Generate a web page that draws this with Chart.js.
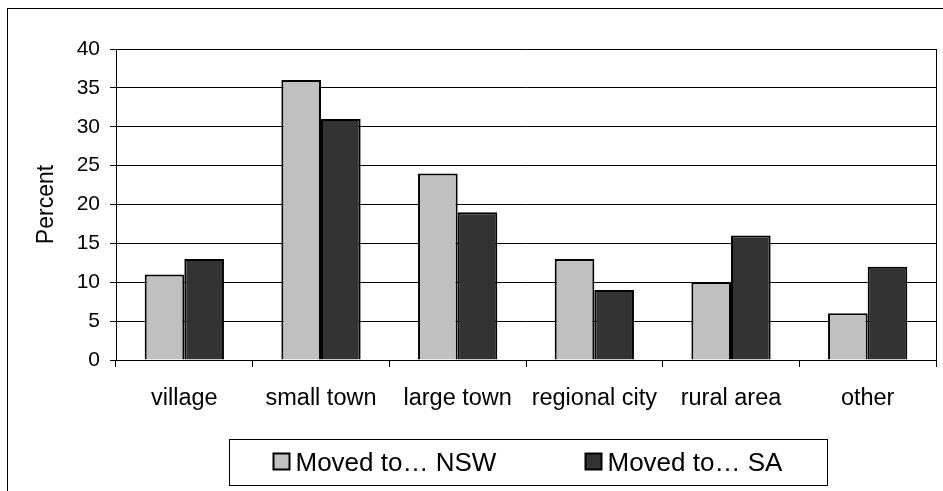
<!DOCTYPE html>
<html>
<head>
<meta charset="utf-8">
<script src="https://cdn.jsdelivr.net/npm/chart.js@4.4.1/dist/chart.umd.min.js"></script>
<style>
body { margin: 0; background: #fff; }
</style>
</head>
<body>
<canvas id="myBarChart" width="943" height="491"></canvas>
<script>
var categories = ["village", "small town", "large town", "regional city", "rural area", "other"];
var seriesNames = ["Moved to\u2026 NSW", "Moved to\u2026 SA"];
var nswValues = [11, 36, 24, 13, 10, 6];
var saValues = [13, 31, 19, 9, 16, 12];
var yTicks = [0, 5, 10, 15, 20, 25, 30, 35, 40];

var fontFamily = '"Liberation Sans", Arial, sans-serif';
Chart.defaults.color = '#000';
Chart.defaults.font.family = fontFamily;

// white page, outer frame, plot right edge and the boxed legend
var frames = {
    id: 'frames',
    beforeDraw: function(chart) {
        var ctx = chart.ctx;
        ctx.save();
        ctx.fillStyle = '#fff';
        ctx.fillRect(0, 0, chart.width, chart.height);
        ctx.restore();
    },
    afterDraw: function(chart) {
        var ctx = chart.ctx, a = chart.chartArea;
        ctx.save();
        ctx.strokeStyle = '#000';
        ctx.lineWidth = 1;
        ctx.strokeRect(7.5, 8.5, chart.width, chart.height);

        var rx = Math.round(a.right) + 0.5;
        ctx.beginPath();
        ctx.moveTo(rx, a.top);
        ctx.lineTo(rx, a.bottom);
        ctx.stroke();

        // legend
        var cx = (a.left + a.right) / 2;
        var L = Math.round(cx - 297) + 0.5, T = chart.height - 51.5;
        ctx.strokeRect(L, T, 598, 46);
        ctx.font = '26px ' + fontFamily;
        ctx.textBaseline = 'middle';
        ctx.textAlign = 'left';
        chart.data.datasets.forEach(function(ds, i) {
            var bx = L + 44 + i * 312, by = T + 14;
            ctx.fillStyle = ds.backgroundColor;
            ctx.fillRect(bx, by, 16, 16);
            ctx.lineWidth = 2;
            ctx.strokeRect(bx, by, 16, 16);
            ctx.fillStyle = '#000';
            ctx.fillText(ds.label, bx + 22, T + 24);
        });
        ctx.restore();
    }
};

var ctx = document.getElementById("myBarChart").getContext('2d');
var myBarChart = new Chart(ctx, {
    type: 'bar',
    data: {
        labels: categories,
        datasets: [
            {
                label: seriesNames[0],
                data: nswValues,
                backgroundColor: '#C0C0C0',
                borderColor: '#000',
                borderWidth: 2,
                categoryPercentage: 0.58,
                barPercentage: 1
            },
            {
                label: seriesNames[1],
                data: saValues,
                backgroundColor: '#333333',
                borderColor: '#000',
                borderWidth: 2,
                categoryPercentage: 0.58,
                barPercentage: 1
            }
        ]
    },
    options: {
        responsive: false,
        animation: false,
        layout: { padding: { top: 49, right: 7, bottom: 51, left: 0 } },
        plugins: {
            legend: { display: false },
            tooltip: { enabled: false }
        },
        scales: {
            x: {
                afterFit: function(scale) { scale.height = 80; },
                grid: {
                    offset: true,
                    drawOnChartArea: false,
                    color: '#000',
                    tickLength: 7
                },
                border: { color: '#000' },
                ticks: { font: { size: 23.5 }, padding: 17, maxRotation: 0, autoSkip: false }
            },
            y: {
                min: 0,
                max: 40,
                afterFit: function(scale) { scale.width = 116; },
                afterBuildTicks: function(scale) {
                    scale.ticks = yTicks.map(function(v) { return { value: v }; });
                },
                grid: { color: '#000', tickLength: 6 },
                border: { color: '#000' },
                ticks: { font: { size: 21 }, padding: 10 },
                title: {
                    display: true,
                    text: 'Percent',
                    font: { size: 23 },
                    padding: { top: 33, bottom: 0 }
                }
            }
        }
    },
    plugins: [frames]
});
</script>
</body>
</html>
